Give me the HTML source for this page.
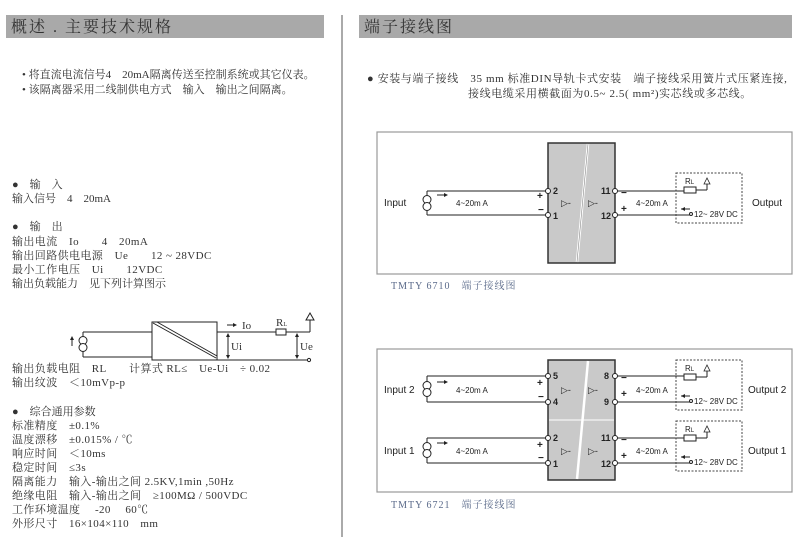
<!DOCTYPE html>
<html><head><meta charset="utf-8"><style>
html,body{margin:0;padding:0;background:#fff;}
svg{display:block;}
.t{font-family:"Liberation Serif","Noto Serif CJK SC",serif;font-size:11px;fill:#333;}
.h{font-family:"Liberation Serif","Noto Serif CJK SC",serif;font-size:16px;fill:#333;letter-spacing:2px;}
.s{font-family:"Liberation Sans",Arial,sans-serif;fill:#222;}
.cap{font-family:"Liberation Serif","Noto Serif CJK SC",serif;font-size:10px;fill:#5a6a8a;letter-spacing:1px;}
</style></head><body>
<svg width="800" height="537" viewBox="0 0 800 537" xmlns="http://www.w3.org/2000/svg">
<defs>
<g id="src"><circle cx="0" cy="-3.5" r="4" fill="#fff" stroke="#222" stroke-width="1"/><circle cx="0" cy="3.5" r="4" fill="#fff" stroke="#222" stroke-width="1"/></g>
<g id="load">
<rect x="0" y="0" width="66" height="50" fill="none" stroke="#444" stroke-width="1" stroke-dasharray="2,1.5"/>
<rect x="8" y="14" width="12" height="6" fill="#fff" stroke="#222"/>
<line x1="20" y1="17" x2="31" y2="17" stroke="#222"/><line x1="31" y1="17" x2="31" y2="10" stroke="#222"/>
<polygon points="28,11 31,5 34,11" fill="#fff" stroke="#222" stroke-width="0.8"/>
<text x="9" y="11" class="s" font-size="8">R<tspan font-size="6">L</tspan></text>
<line x1="5" y1="36" x2="14" y2="36" stroke="#222"/><polygon points="5,36 9,34 9,38" fill="#222"/>
<circle cx="15" cy="41" r="1.5" fill="#fff" stroke="#222"/>
<text x="18" y="44" class="s" font-size="8">12~ 28V DC</text>
</g>
</defs>
<rect x="6" y="15" width="318" height="23" fill="#a9a9a9"/>
<text x="11" y="32" class="h">概述 . 主要技术规格</text>
<line x1="342" y1="15" x2="342" y2="537" stroke="#aaa" stroke-width="2"/>
<rect x="359" y="15" width="433" height="23" fill="#a9a9a9"/>
<text x="364" y="32" class="h">端子接线图</text>

<text x="22" y="78" class="t" font-size="10.4">• 将直流电流信号4　20mA隔离传送至控制系统或其它仪表。</text>
<text x="22" y="93" class="t" font-size="10.4">• 该隔离器采用二线制供电方式　输入　输出之间隔离。</text>
<text x="12" y="188" class="t">●　输　入</text>
<text x="12" y="202" class="t">输入信号　4　20mA</text>
<text x="12" y="230" class="t">●　输　出</text>
<text x="12" y="245" class="t" letter-spacing="0.4">输出电流　Io　　4　20mA</text>
<text x="12" y="259" class="t" letter-spacing="0.4">输出回路供电电源　Ue　　12 ~ 28VDC</text>
<text x="12" y="273" class="t" letter-spacing="0.4">最小工作电压　Ui　　12VDC</text>
<text x="12" y="287" class="t">输出负载能力　见下列计算图示</text>

<g stroke="#222" stroke-width="1" fill="none">
<rect x="152" y="322" width="65" height="38" fill="#fff"/>
<line x1="153" y1="323" x2="216" y2="358" stroke-width="1"/>
<line x1="157" y1="322" x2="217" y2="356"/>
<line x1="83" y1="332" x2="152" y2="332"/><line x1="83" y1="357" x2="152" y2="357"/>
<line x1="83" y1="332" x2="83" y2="357"/>
<line x1="217" y1="332" x2="276" y2="332"/><line x1="286" y1="332" x2="310" y2="332"/>
<line x1="310" y1="332" x2="310" y2="320"/>
<line x1="217" y1="360" x2="307" y2="360"/>
<line x1="228" y1="334" x2="228" y2="358"/><line x1="297" y1="334" x2="297" y2="358"/>
<line x1="227" y1="325" x2="236" y2="325"/>
<line x1="72" y1="346" x2="72" y2="338"/>
</g>
<polygon points="237,325 233,323 233,327" fill="#222"/>
<polygon points="72,336 70,340 74,340" fill="#222"/>
<polygon points="228,333 226,337 230,337" fill="#222"/><polygon points="228,359 226,355 230,355" fill="#222"/>
<polygon points="297,333 295,337 299,337" fill="#222"/><polygon points="297,359 295,355 299,355" fill="#222"/>
<polygon points="306,320 310,313 314,320" fill="#fff" stroke="#222"/>
<rect x="276" y="329" width="10" height="6" fill="#fff" stroke="#222"/>
<circle cx="309" cy="360" r="1.6" fill="#fff" stroke="#222"/>
<use href="#src" x="83" y="344"/>
<text x="242" y="329" class="t" font-size="10">Io</text>
<text x="276" y="326" class="t" font-size="8">R<tspan font-size="6">L</tspan></text>
<text x="231" y="350" class="t" font-size="10">Ui</text>
<text x="300" y="350" class="t" font-size="10">Ue</text>

<text x="12" y="372" class="t" letter-spacing="0.4">输出负载电阻　RL　　计算式 RL≤　Ue-Ui　÷ 0.02</text>
<text x="12" y="386" class="t" letter-spacing="0.4">输出纹波　＜10mVp-p</text>
<text x="12" y="415" class="t">●　综合通用参数</text>
<text x="12" y="429" class="t" letter-spacing="0.4">标准精度　±0.1%</text>
<text x="12" y="443" class="t" letter-spacing="0.4">温度漂移　±0.015% / ℃</text>
<text x="12" y="457" class="t" letter-spacing="0.4">响应时间　＜10ms</text>
<text x="12" y="471" class="t" letter-spacing="0.4">稳定时间　≤3s</text>
<text x="12" y="485" class="t" letter-spacing="0.4">隔离能力　输入-输出之间 2.5KV,1min ,50Hz</text>
<text x="12" y="499" class="t" letter-spacing="0.4">绝缘电阻　输入-输出之间　≥100MΩ / 500VDC</text>
<text x="12" y="513" class="t" letter-spacing="0.4">工作环境温度　 -20　 60℃</text>
<text x="12" y="527" class="t" letter-spacing="0.4">外形尺寸　16×104×110　mm</text>

<text x="367" y="82" class="t" letter-spacing="0.6">● 安装与端子接线　35 mm 标准DIN导轨卡式安装　端子接线采用簧片式压紧连接,</text>
<text x="468" y="97" class="t" letter-spacing="0.6">接线电缆采用横截面为0.5~ 2.5( mm²)实芯线或多芯线。</text>

<rect x="377" y="132" width="415" height="142" fill="none" stroke="#999" stroke-width="1.2"/>
<rect x="548" y="143" width="67" height="120" fill="#c9c9c9" stroke="#333" stroke-width="1.5"/>
<line x1="588" y1="144" x2="577" y2="262" stroke="#fff" stroke-width="2.5"/>
<line x1="588" y1="144" x2="577" y2="262" stroke="#888" stroke-width="0.6"/>
<g stroke="#222" stroke-width="1" fill="none">
<line x1="427" y1="191" x2="546" y2="191"/><line x1="427" y1="215" x2="546" y2="215"/>
<line x1="427" y1="191" x2="427" y2="215"/>
<line x1="617" y1="191" x2="684" y2="191"/><line x1="617" y1="215" x2="690" y2="215"/>
<line x1="437" y1="195" x2="446" y2="195"/>
</g>
<polygon points="448,195 444,193 444,197" fill="#222"/>
<use href="#src" x="427" y="203"/>
<circle cx="548" cy="191" r="2.5" fill="#fff" stroke="#222"/><circle cx="548" cy="215" r="2.5" fill="#fff" stroke="#222"/>
<circle cx="615" cy="191" r="2.5" fill="#fff" stroke="#222"/><circle cx="615" cy="215" r="2.5" fill="#fff" stroke="#222"/>
<text x="384" y="206" class="s" font-size="10">Input</text>
<text x="456" y="206" class="s" font-size="8">4~20m A</text>
<text x="537" y="199" class="s" font-size="10" font-weight="bold">+</text>
<text x="538" y="213" class="s" font-size="10" font-weight="bold">−</text>
<text x="553" y="194" class="s" font-size="9" font-weight="bold">2</text>
<text x="553" y="219" class="s" font-size="9" font-weight="bold">1</text>
<text x="601" y="194" class="s" font-size="9" font-weight="bold">11</text>
<text x="601" y="219" class="s" font-size="9" font-weight="bold">12</text>
<text x="621" y="196" class="s" font-size="10" font-weight="bold">−</text>
<text x="621" y="212" class="s" font-size="10" font-weight="bold">+</text>
<text x="636" y="206" class="s" font-size="8">4~20m A</text>
<text x="561" y="206" class="s" font-size="9" fill="#666">▷-</text>
<text x="588" y="206" class="s" font-size="9" fill="#666">▷-</text>
<use href="#load" x="676" y="173"/>
<text x="752" y="206" class="s" font-size="10">Output</text>
<text x="391" y="289" class="cap">TMTY 6710　端子接线图</text>

<rect x="377" y="349" width="415" height="143" fill="none" stroke="#999" stroke-width="1.2"/>
<rect x="548" y="360" width="67" height="120" fill="#c9c9c9" stroke="#333" stroke-width="1.5"/>
<line x1="549" y1="420" x2="614" y2="420" stroke="#eee" stroke-width="1.5"/>
<line x1="588" y1="361" x2="577" y2="479" stroke="#fff" stroke-width="2.5"/>
<g stroke="#222" stroke-width="1" fill="none">
<line x1="427" y1="376" x2="546" y2="376"/><line x1="427" y1="402" x2="546" y2="402"/><line x1="427" y1="376" x2="427" y2="402"/>
<line x1="427" y1="438" x2="546" y2="438"/><line x1="427" y1="463" x2="546" y2="463"/><line x1="427" y1="438" x2="427" y2="463"/>
<line x1="617" y1="376" x2="684" y2="376"/><line x1="617" y1="402" x2="690" y2="402"/>
<line x1="617" y1="438" x2="684" y2="438"/><line x1="617" y1="463" x2="690" y2="463"/>
<line x1="437" y1="382" x2="446" y2="382"/><line x1="437" y1="443" x2="446" y2="443"/>
</g>
<polygon points="448,382 444,380 444,384" fill="#222"/><polygon points="448,443 444,441 444,445" fill="#222"/>
<use href="#src" x="427" y="389"/><use href="#src" x="427" y="450"/>
<g fill="#fff" stroke="#222">
<circle cx="548" cy="376" r="2.5"/><circle cx="548" cy="402" r="2.5"/><circle cx="548" cy="438" r="2.5"/><circle cx="548" cy="463" r="2.5"/>
<circle cx="615" cy="376" r="2.5"/><circle cx="615" cy="402" r="2.5"/><circle cx="615" cy="438" r="2.5"/><circle cx="615" cy="463" r="2.5"/>
</g>
<text x="384" y="393" class="s" font-size="10">Input 2</text>
<text x="384" y="454" class="s" font-size="10">Input 1</text>
<text x="456" y="393" class="s" font-size="8">4~20m A</text>
<text x="456" y="454" class="s" font-size="8">4~20m A</text>
<g class="s" font-size="10" font-weight="bold">
<text x="537" y="386">+</text><text x="538" y="400">−</text>
<text x="537" y="448">+</text><text x="538" y="461">−</text>
<text x="621" y="381">−</text><text x="621" y="397">+</text>
<text x="621" y="443">−</text><text x="621" y="459">+</text>
</g>
<g class="s" font-size="9" font-weight="bold">
<text x="553" y="379">5</text><text x="553" y="405">4</text><text x="553" y="441">2</text><text x="553" y="467">1</text>
<text x="604" y="379">8</text><text x="604" y="405">9</text><text x="601" y="441">11</text><text x="601" y="467">12</text>
</g>
<g class="s" font-size="9" fill="#666">
<text x="561" y="393">▷-</text><text x="588" y="393">▷-</text>
<text x="561" y="454">▷-</text><text x="588" y="454">▷-</text>
</g>
<text x="636" y="393" class="s" font-size="8">4~20m A</text>
<text x="636" y="454" class="s" font-size="8">4~20m A</text>
<use href="#load" x="676" y="360"/><use href="#load" x="676" y="421"/>
<text x="748" y="393" class="s" font-size="10">Output 2</text>
<text x="748" y="454" class="s" font-size="10">Output 1</text>
<text x="391" y="508" class="cap">TMTY 6721　端子接线图</text>
</svg>
</body></html>
